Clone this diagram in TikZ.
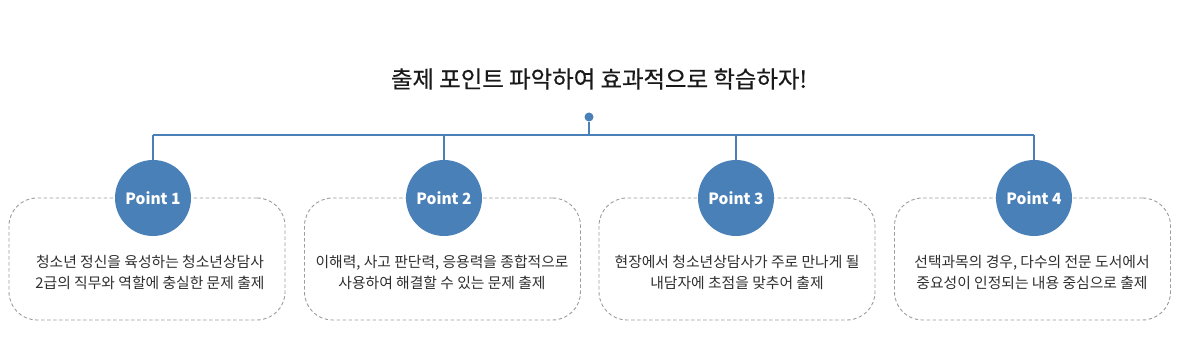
\documentclass[tikz,border=0pt]{standalone}
\usepackage{fontspec}
\setmainfont{Noto Sans CJK KR}
\newfontfamily\titlefont{Noto Sans CJK KR}[FakeBold=0.5]
\usetikzlibrary{positioning, calc}
\definecolor{pointblue}{HTML}{4A80B8}
\definecolor{boxgray}{HTML}{9C9C9C}
\definecolor{txtgray}{HTML}{2E2E2E}
\tikzset{
    link/.style={draw=pointblue, line width=1.2pt},
    card/.style={draw=boxgray, dashed, dash pattern=on 3.5pt off 2.5pt, line width=0.9pt,
        rounded corners=28pt, minimum width=276pt, minimum height=122pt, inner sep=0pt},
    desc/.style={align=center, text=txtgray, font=\fontsize{14.8}{21}\selectfont, inner sep=0pt}
}

\begin{document}
\begin{tikzpicture}[
    x=1pt, y=-1pt,
    badge/.style={circle, fill=pointblue, minimum size=76pt, inner sep=0pt,
        text=white, font=\fontsize{15.5}{17}\selectfont\bfseries},
    hubdot/.style={circle, fill=pointblue, minimum size=9pt, inner sep=0pt}
]
    \useasboundingbox (0,0) rectangle (1180,344);

    \node[font=\fontsize{23.4}{26}\selectfont\titlefont, text=black!90] (title) at (599,79)
        {출제 포인트 파악하여 효과적으로 학습하자!};
    \node[hubdot] (hub) at (589,117) {};
    \coordinate (barL) at (153,135);
    \coordinate (barR) at (1034,135);

    % cards
    \node[card] (c1) at (147,259) {};
    \node[card] (c2) at (442.5,259) {};
    \node[card] (c3) at (737,259) {};
    \node[card] (c4) at (1032.5,259) {};

    % badges
    \node[badge] (p1) at (153,198) {Point 1};
    \node[badge] (p2) at (444,198) {Point 2};
    \node[badge] (p3) at (736,198) {Point 3};
    \node[badge] (p4) at (1034,198) {Point 4};

    \draw[link] (barL) -- (barR);
    \draw[link] (hub) -- (hub |- barL);
    \foreach \p in {p1,p2,p3,p4}
        \draw[link] (\p.north) -- (\p |- barL);

    % descriptions
    \node[desc] (d1) at (150,272) {청소년 정신을 육성하는 청소년상담사\\2급의 직무와 역할에 충실한 문제 출제};
    \node[desc] (d2) at (442,272) {이해력, 사고 판단력, 응용력을 종합적으로\\사용하여 해결할 수 있는 문제 출제};
    \node[desc] (d3) at (737,272) {현장에서 청소년상담사가 주로 만나게 될\\내담자에 초점을 맞추어 출제};
    \node[desc] (d4) at (1032,272) {선택과목의 경우, 다수의 전문 도서에서\\중요성이 인정되는 내용 중심으로 출제};
\end{tikzpicture}
\end{document}
